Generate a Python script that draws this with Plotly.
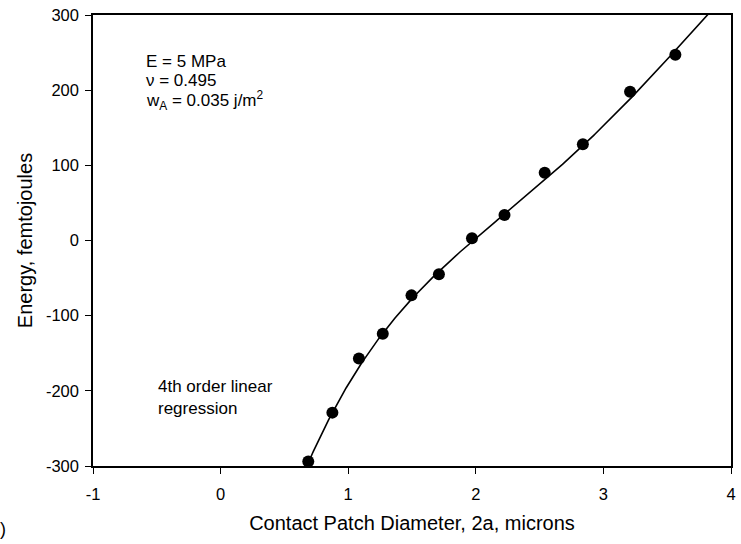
import numpy as np
import plotly.graph_objects as go

diameter = [0.687, 0.876, 1.084, 1.271, 1.496, 1.711, 1.970, 2.225, 2.540, 2.839, 3.209, 3.564]
energy = [-294, -229, -157, -124, -73, -45, 3, 34, 90, 128, 198, 247]

# Regression curve
curve_x = [0.665, 0.687, 0.876, 1.084, 1.271, 1.496, 1.711, 1.970, 2.224, 2.540, 2.839, 3.188, 3.564, 3.705, 3.79]
curve_y = [-305, -296, -229, -166, -124, -74, -48, 1, 32, 83, 125, 192, 241, 281, 300]

x_ticks = [-1, 0, 1, 2, 3, 4]
x_tick_text = ["-1", "0", "1", "2", "3", "4"]
y_ticks = [-300, -200, -100, 0, 100, 200, 300]
y_tick_text = ["-300", "-200", "-100", "0", "100", "200", "300"]

# smooth 4th order fit through the traced curve
coef = np.polyfit(curve_x, curve_y, 4)
xf = np.linspace(0.6, 4.0, 400)
yf = np.polyval(coef, xf)

FONT = "Liberation Sans, Arial, sans-serif"

fig = go.Figure()
fig.add_trace(go.Scatter(x=xf, y=yf, mode="lines",
                         line=dict(color="black", width=1.6), hoverinfo="skip"))
fig.add_trace(go.Scatter(x=diameter, y=energy, mode="markers",
                         marker=dict(color="black", size=12)))

fig.update_layout(
    width=741, height=544,
    margin=dict(l=93, r=5, t=15, b=78),
    plot_bgcolor="white", paper_bgcolor="white",
    showlegend=False,
    font=dict(family=FONT, color="black", size=16),
    xaxis=dict(range=[-1, 4], tickvals=x_ticks, ticktext=x_tick_text,
               ticks="outside", ticklen=6, tickwidth=1.2, tickcolor="black",
               ticklabelstandoff=6,
               showgrid=False, zeroline=False, showline=True, linecolor="black",
               linewidth=1.5, mirror=True, tickfont=dict(size=16.5),
               title=dict(text="Contact Patch Diameter, 2a, microns",
                          font=dict(size=20), standoff=14)),
    yaxis=dict(range=[-300, 300], tickvals=y_ticks, ticktext=y_tick_text,
               ticks="outside", ticklen=6, tickwidth=1.2, tickcolor="black",
               ticklabelstandoff=3,
               showgrid=False, zeroline=False, showline=True, linecolor="black",
               linewidth=1.5, mirror=True, tickfont=dict(size=16.5),
               title=dict(text="Energy, femtojoules", font=dict(size=20), standoff=8)),
)

anns = [
    ("E = 5 MPa", 0.896),
    ("\u03bd = 0.495", 0.854),
    ("w<sub>A</sub> = 0.035 j/m<sup>2</sup>", 0.810),
]
for t, y in anns:
    fig.add_annotation(text=t, x=0.080, y=y, xref="paper", yref="paper",
                       xanchor="left", yanchor="middle", showarrow=False,
                       font=dict(size=17))
fig.add_annotation(text="4th order linear<br>regression", x=0.098, y=0.151,
                   xref="paper", yref="paper", xanchor="left", yanchor="middle",
                   showarrow=False, align="left", font=dict(size=17))
fig.add_annotation(text=")", x=-96/643, y=-0.14, xref="paper", yref="paper",
                   xanchor="left", yanchor="middle", showarrow=False,
                   font=dict(size=18))

fig.write_html("out.html")
